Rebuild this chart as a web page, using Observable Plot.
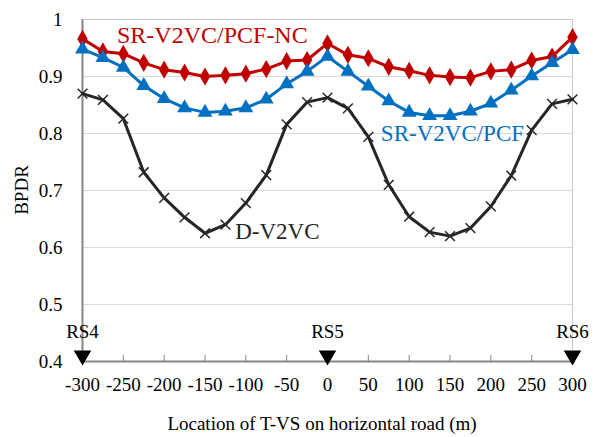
<!DOCTYPE html>
<html><head><meta charset="utf-8">
<script src="https://cdn.jsdelivr.net/npm/d3@7"></script>
<script src="https://cdn.jsdelivr.net/npm/@observablehq/plot@0.6"></script>
<style>body{margin:0;background:#fff} svg, svg text{font-family:"Liberation Serif", "Times New Roman", serif !important}</style>
</head><body><div id="chart"></div>
<script>
const locations = [-300,-275,-250,-225,-200,-175,-150,-125,-100,-75,-50,-25,0,25,50,75,100,125,150,175,200,225,250,275,300];
const srNC = [0.966,0.944,0.940,0.924,0.912,0.907,0.900,0.902,0.905,0.913,0.927,0.929,0.958,0.938,0.932,0.917,0.910,0.902,0.899,0.898,0.909,0.912,0.928,0.935,0.969];
const srPCF = [0.948,0.933,0.916,0.884,0.861,0.845,0.837,0.839,0.845,0.860,0.887,0.909,0.935,0.909,0.883,0.857,0.837,0.831,0.831,0.839,0.853,0.876,0.901,0.924,0.947];
const dV2VC = [0.870,0.859,0.826,0.732,0.687,0.653,0.625,0.640,0.678,0.727,0.816,0.855,0.863,0.844,0.794,0.710,0.654,0.627,0.620,0.634,0.672,0.726,0.806,0.852,0.860];
const xTicks = [-300,-250,-200,-150,-100,-50,0,50,100,150,200,250,300];
const yTicks = [0.4,0.5,0.6,0.7,0.8,0.9,1];
const rsNames = ["RS4","RS5","RS6"];
const rsLocs = [-300,0,300];
const seriesNames = ["SR-V2VC/PCF-NC","SR-V2VC/PCF","D-V2VC"];
const labelX = [-141,153,-113];
const labelY = [0.973,0.800,0.627];

const colors = ["#C00000","#0070C0","#262626"];
const symbols = ["diamond","triangle","times"];
const values = [srNC, srPCF, dV2VC];
const rs = rsNames.map((n,i)=>({name:n, x:rsLocs[i]}));
const labels = seriesNames.map((n,i)=>({name:n, x:labelX[i], y:labelY[i], c:colors[i]}));

const marks = [
  Plot.gridY(yTicks.filter(d=>d>0.4), {stroke:"#d9d9d9", strokeOpacity:1, strokeWidth:1}),
  Plot.frame({stroke:"#c8c8c8"}),
  Plot.ruleX([-300], {stroke:"#868686", strokeWidth:2}),
  Plot.ruleY([0.4], {stroke:"#868686", strokeWidth:2}),
  Plot.axisY({ticks:yTicks, tickSize:0, tickPadding:20, tickFormat:d=>d===1?"1":d.toFixed(1), fontSize:19, label:null}),
  Plot.axisX({ticks:xTicks, tickSize:-6, tickPadding:22, stroke:"#868686", fontSize:19, label:null, tickFormat:d=>String(d)}),
];
values.forEach((vals,i)=>{
  const data = locations.map((x,j)=>({x, y:vals[j]}));
  marks.push(Plot.line(data, {x:"x", y:"y", stroke:colors[i], strokeWidth:3}));
  marks.push(Plot.dot(data, {x:"x", y:"y", symbol:symbols[i], r: i===2?4.5:5.5, fill: i===2?"none":colors[i], stroke:colors[i], strokeWidth: i===2?1.5:0}));
});
marks.push(Plot.dot(rs, {x:"x", y:()=>0.4, symbol:"triangle", rotate:180, r:6.5, fill:"#000", dy:-6}));
marks.push(Plot.text(rs, {x:"x", y:()=>0.4, text:"name", dy:-30, fontSize:19, fill:"#000"}));
labels.forEach((l,i)=>{
  marks.push(Plot.text([l], {x:"x", y:"y", text:"name", fill:l.c, fontSize: i===0?24:23, textAnchor: i===2?"start":"middle"}));
});

const chart = Plot.plot({
  width:597, height:437,
  marginLeft:82, marginRight:25, marginTop:19, marginBottom:76,
  style:{fontFamily:"Liberation Serif", background:"#fff", color:"#000"},
  x:{domain:[-300,300]},
  y:{domain:[0.4,1]},
  marks
});
const svg = d3.select(chart);
svg.append("text").attr("x",322).attr("y",430).attr("text-anchor","middle").attr("font-size",19).attr("fill","#000").text("Location of T-VS on horizontal road (m)");
svg.append("text").attr("transform","translate(28,190) rotate(-90)").attr("text-anchor","middle").attr("font-size",19).attr("fill","#000").text("BPDR");
document.getElementById("chart").appendChild(chart);
</script></body></html>
